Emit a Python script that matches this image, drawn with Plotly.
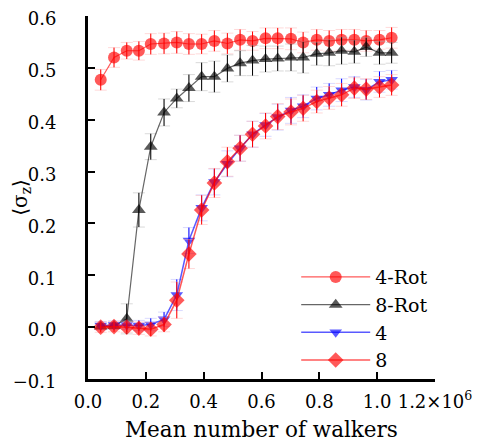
import plotly.graph_objects as go

walkers = [44000, 90000, 134000, 176000, 217000, 263000, 307000, 349000, 393000, 437000,
           482000, 526000, 569000, 614000, 656000, 702000, 744000, 791000, 834000, 877000,
           921000, 962000, 1008000, 1050000]

rot4 = [0.477, 0.520, 0.533, 0.533, 0.546, 0.547, 0.549, 0.546, 0.546, 0.552, 0.547, 0.554,
        0.552, 0.557, 0.557, 0.556, 0.549, 0.554, 0.552, 0.554, 0.554, 0.552, 0.554, 0.558]
rot4_err = [0.020, 0.019, 0.016, 0.018, 0.020, 0.020, 0.021, 0.020, 0.019, 0.020, 0.020, 0.020,
            0.018, 0.020, 0.020, 0.021, 0.020, 0.020, 0.020, 0.020, 0.020, 0.020, 0.018, 0.020]

rot8 = [0.001, 0.002, 0.016, 0.226, 0.348, 0.414, 0.441, 0.461, 0.483, 0.483, 0.499, 0.509,
        0.514, 0.517, 0.518, 0.520, 0.520, 0.527, 0.529, 0.533, 0.531, 0.540, 0.529, 0.529]
rot8_err = [0.005, 0.005, 0.029, 0.033, 0.025, 0.026, 0.018, 0.026, 0.027, 0.030, 0.026, 0.024,
            0.029, 0.025, 0.024, 0.026, 0.030, 0.022, 0.025, 0.026, 0.022, 0.018, 0.022, 0.020]

s4 = [0.003, 0.004, 0.004, 0.003, 0.005, 0.015, 0.062, 0.167, 0.230, 0.280, 0.315, 0.345,
      0.372, 0.390, 0.405, 0.418, 0.426, 0.441, 0.448, 0.457, 0.463, 0.458, 0.473, 0.477]
s4_err = [0.008, 0.008, 0.008, 0.010, 0.012, 0.014, 0.030, 0.025, 0.025, 0.025, 0.025, 0.025,
          0.025, 0.022, 0.025, 0.025, 0.022, 0.022, 0.022, 0.022, 0.020, 0.020, 0.020, 0.018]

s8 = [0.000, 0.001, 0.000, -0.002, -0.004, 0.005, 0.052, 0.141, 0.226, 0.278, 0.319, 0.345,
      0.372, 0.388, 0.406, 0.415, 0.422, 0.435, 0.442, 0.448, 0.461, 0.459, 0.463, 0.467]
s8_err = [0.010, 0.010, 0.010, 0.012, 0.013, 0.014, 0.035, 0.028, 0.028, 0.028, 0.028, 0.025,
          0.025, 0.025, 0.025, 0.025, 0.025, 0.022, 0.022, 0.022, 0.020, 0.020, 0.020, 0.020]

x_tickvals = [0, 200000, 400000, 600000, 800000, 1000000, 1200000]
x_ticktext = ["0.0", "0.2", "0.4", "0.6", "0.8", "1.0", "1.2×10<sup>6</sup>"]
y_tickvals = [-0.1, 0.0, 0.1, 0.2, 0.3, 0.4, 0.5, 0.6]

series = [
    ("4-Rot", rot4, rot4_err, "circle", 12, "rgba(255,0,0,0.65)", "rgba(255,0,0,0.65)", "rgb(255,0,0)", "rgba(255,170,170,0.45)", 1.2),
    ("8-Rot", rot8, rot8_err, "triangle-up", 12, "rgba(0,0,0,0.65)", "rgba(0,0,0,0.6)", "rgb(0,0,0)", "rgba(170,170,170,0.45)", 1.2),
    ("4", s4, s4_err, "triangle-down", 11, "rgba(0,0,255,0.65)", "rgba(0,0,255,0.65)", "rgb(0,0,255)", "rgba(170,170,255,0.45)", 1.5),
    ("8", s8, s8_err, "diamond", 12, "rgba(255,0,0,0.65)", "rgba(255,0,0,0.65)", "rgb(255,0,0)", "rgba(255,170,170,0.45)", 1.5),
]

FONT = "DejaVu Serif, serif"

fig = go.Figure()
for name, vals, errs, sym, size, mcol, lcol, ecol, capcol, lw in series:
    # faint caps
    fig.add_trace(go.Scatter(
        x=walkers, y=vals, mode="markers",
        marker=dict(size=1, color="rgba(0,0,0,0)"),
        error_y=dict(type="data", array=errs, visible=True, color=capcol, thickness=1, width=6),
        showlegend=False, hoverinfo="skip"))
    fig.add_trace(go.Scatter(
        x=walkers, y=vals, mode="lines+markers", name=name,
        line=dict(color=lcol, width=lw),
        marker=dict(symbol=sym, size=size, color=mcol, line=dict(width=0)),
        error_y=dict(type="data", array=errs, visible=True, color=ecol, thickness=1, width=0)))

fig.update_layout(
    width=503, height=446,
    margin=dict(l=80, r=76, t=8, b=75, autoexpand=False),
    paper_bgcolor="white", plot_bgcolor="white",
    font=dict(family=FONT, size=18, color="black"),
    showlegend=True,
    legend=dict(x=0.6, y=0.333, xanchor="left", yanchor="top",
                font=dict(family=FONT, size=19, color="black"),
                bgcolor="rgba(0,0,0,0)", borderwidth=0, itemwidth=69,
                tracegroupgap=0),
)
fig.update_xaxes(
    range=[0, 1200000], tickmode="array", tickvals=x_tickvals, ticktext=x_ticktext,
    showline=True, linecolor="black", linewidth=3, mirror=False, automargin=False,
    ticks="inside", ticklen=7, tickwidth=2, tickcolor="black",
    showgrid=False, zeroline=False, ticklabeloverflow="allow",
    tickfont=dict(family=FONT, size=18), ticklabelstandoff=4,
    title=dict(text="Mean number of walkers", font=dict(family=FONT, size=21.5), standoff=12),
)
fig.update_yaxes(
    range=[-0.1, 0.6], tickmode="array", tickvals=y_tickvals, tickformat=".1f",
    showline=True, linecolor="black", linewidth=3, mirror=False, automargin=False,
    ticks="inside", ticklen=7, tickwidth=2, tickcolor="black",
    showgrid=False, zeroline=False, ticklabeloverflow="allow",
    tickfont=dict(family=FONT, size=18), ticklabelstandoff=25, ticklabelshift=3,
    title=dict(text="⟨σ<sub>z</sub>⟩", font=dict(family=FONT, size=20), standoff=2),
)

fig.write_html("out.html")
